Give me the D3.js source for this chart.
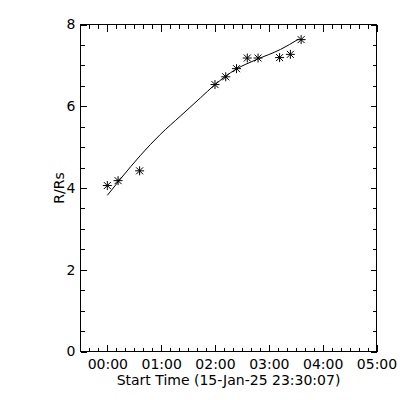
<!DOCTYPE html>
<meta charset="utf-8">
<style>
  body { margin: 0; background: #fff; }
  svg { display: block; }
  text { font-family: "DejaVu Sans", "Liberation Sans", sans-serif; font-size: 14px; fill: #000; }
  .axis path, .axis line { stroke: #000; shape-rendering: crispEdges; }
</style>
<body>
<div id="chart"></div>
<script src="https://d3js.org/d3.v7.min.js"></script>
<script>
// time axis starts at the reference time, observations after midnight
const startTime = "2025-01-15 23:30:07";
const endTime = "2025-01-16 05:00:00";
const obsDay = "2025-01-16";

// measured heights (asterisks)
const obsTimes = ["00:00", "00:12", "00:36", "02:00", "02:12", "02:24", "02:36", "02:48", "03:12", "03:24", "03:36"];
const obsR = [4.06, 4.18, 4.42, 6.53, 6.72, 6.92, 7.18, 7.18, 7.19, 7.27, 7.63];

// fitted curve
const fitTimes = ["00:00", "00:15", "00:37", "00:59", "01:22", "01:44", "01:59", "02:23", "02:46", "03:13", "03:33"];
const fitR = [3.82, 4.23, 4.80, 5.31, 5.77, 6.21, 6.51, 6.90, 7.14, 7.39, 7.64];

const yTicks = [0, 2, 4, 6, 8];
const xTitle = "Start Time (15-Jan-25 23:30:07)";
const yTitle = "R/Rs";

const parse = d3.utcParse("%Y-%m-%d %H:%M:%S");
const parseHM = d3.utcParse("%Y-%m-%d %H:%M");

const obs = obsTimes.map((t, i) => ({ t: parseHM(obsDay + " " + t), r: obsR[i] }));
const fit = fitTimes.map((t, i) => ({ t: parseHM(obsDay + " " + t), r: fitR[i] }));

const W = 400, H = 400;
const pLeft = 80.5, pRight = 376.5, pTop = 24.5, pBottom = 351.5;

const svg = d3.select("#chart").append("svg")
  .attr("width", W)
  .attr("height", H);

svg.append("rect").attr("width", W).attr("height", H).attr("fill", "#fff");

const x = d3.scaleUtc()
  .domain([parse(startTime), parse(endTime)])
  .range([pLeft, pRight]);

const y = d3.scaleLinear()
  .domain([0, 8])
  .range([pBottom, pTop]);

const hourTicks = d3.utcHour.every(1);
const minorX = d3.utcMinute.every(10);
const minorY = d3.range(0, 8.01, 0.5);

// bottom axis with labels
svg.append("g")
  .attr("class", "axis")
  .attr("transform", `translate(0,${pBottom})`)
  .call(d3.axisBottom(x).ticks(hourTicks).tickFormat(d3.utcFormat("%H:%M")).tickSize(-7).tickPadding(8))
  .call(g => g.select(".domain").remove());

svg.append("g")
  .attr("class", "axis")
  .attr("transform", `translate(0,${pBottom})`)
  .call(d3.axisBottom(x).ticks(minorX).tickFormat("").tickSize(-4))
  .call(g => g.select(".domain").remove());

// top axis, ticks only
svg.append("g")
  .attr("class", "axis")
  .attr("transform", `translate(0,${pTop})`)
  .call(d3.axisTop(x).ticks(hourTicks).tickFormat("").tickSize(-7))
  .call(g => g.select(".domain").remove());

svg.append("g")
  .attr("class", "axis")
  .attr("transform", `translate(0,${pTop})`)
  .call(d3.axisTop(x).ticks(minorX).tickFormat("").tickSize(-4))
  .call(g => g.select(".domain").remove());

// left axis
svg.append("g")
  .attr("class", "axis")
  .attr("transform", `translate(${pLeft},0)`)
  .call(d3.axisLeft(y).tickValues(yTicks).tickFormat(d3.format("d")).tickSize(-6).tickPadding(5))
  .call(g => g.select(".domain").remove());

svg.append("g")
  .attr("class", "axis")
  .attr("transform", `translate(${pLeft},0)`)
  .call(d3.axisLeft(y).tickValues(minorY).tickFormat("").tickSize(-4))
  .call(g => g.select(".domain").remove());

// right axis
svg.append("g")
  .attr("class", "axis")
  .attr("transform", `translate(${pRight},0)`)
  .call(d3.axisRight(y).tickValues(yTicks).tickFormat("").tickSize(-6))
  .call(g => g.select(".domain").remove());

svg.append("g")
  .attr("class", "axis")
  .attr("transform", `translate(${pRight},0)`)
  .call(d3.axisRight(y).tickValues(minorY).tickFormat("").tickSize(-4))
  .call(g => g.select(".domain").remove());

// frame
svg.append("rect")
  .attr("x", pLeft).attr("y", pTop)
  .attr("width", pRight - pLeft).attr("height", pBottom - pTop)
  .attr("fill", "none").attr("stroke", "#000")
  .style("shape-rendering", "crispEdges");

svg.selectAll(".axis text").style("font-size", "14px");

// fit line
const line = d3.line()
  .x(d => x(d.t))
  .y(d => y(d.r))
  .curve(d3.curveMonotoneX);

svg.append("path")
  .datum(fit)
  .attr("d", line)
  .attr("fill", "none")
  .attr("stroke", "#000")
  .attr("stroke-width", 1);

// asterisks
const a = 4.5, b = 3.5;
const star = `M${-a},0H${a}M0,${-a}V${a}M${-b},${-b}L${b},${b}M${-b},${b}L${b},${-b}`;

svg.selectAll(".obs")
  .data(obs)
  .join("path")
  .attr("class", "obs")
  .attr("transform", d => `translate(${x(d.t)},${y(d.r)})`)
  .attr("d", star)
  .attr("fill", "none")
  .attr("stroke", "#000")
  .attr("stroke-width", 1);

// titles
svg.append("text")
  .attr("x", (pLeft + pRight) / 2)
  .attr("y", 385)
  .attr("text-anchor", "middle")
  .text(xTitle);

svg.append("text")
  .attr("transform", `translate(64,${(pTop + pBottom) / 2}) rotate(-90)`)
  .attr("text-anchor", "middle")
  .text(yTitle);
</script>
</body>
